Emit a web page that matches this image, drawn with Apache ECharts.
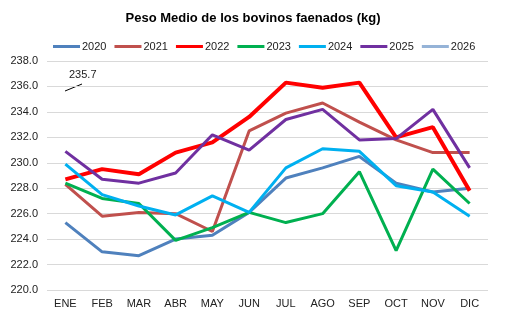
<!DOCTYPE html>
<html><head><meta charset="utf-8">
<script src="https://cdn.jsdelivr.net/npm/echarts@6/dist/echarts.min.js"></script>
<style>html,body{margin:0;padding:0;background:#fff}#c{width:506px;height:323px}</style>
</head><body><div id="c"></div>
<script>
const months = ['ENE','FEB','MAR','ABR','MAY','JUN','JUL','AGO','SEP','OCT','NOV','DIC'];
const y2020 = [225.3,223.0,222.7,224.0,224.3,226.1,228.8,229.6,230.5,228.4,227.7,228.0];
const y2021 = [228.3,225.8,226.1,226.0,224.6,232.5,233.9,234.7,233.2,231.8,230.8,230.8];
const y2022 = [228.7,229.5,229.1,230.8,231.6,233.6,236.3,235.9,236.3,232.0,232.8,227.8];
const y2023 = [228.4,227.2,226.8,223.9,224.9,226.1,225.3,226.0,229.3,223.1,229.5,226.8];
const y2024 = [229.9,227.5,226.6,225.9,227.4,226.1,229.6,231.1,230.9,228.2,227.7,225.8];
const y2025 = [230.9,228.7,228.4,229.2,232.2,231.0,233.4,234.2,231.8,231.9,234.2,229.6];
const y2026 = [];
const yTicks = {min:220, max:238, interval:2};
const note = '235.7';

const chart = echarts.init(document.getElementById('c'));
function s(name, data, color, w){
  return {name, type:'line', data, symbol:'none', lineStyle:{color, width:w}, itemStyle:{color}};
}
chart.setOption({
  animation:false,
  title:{text:'Peso Medio de los bovinos faenados (kg)', left:'center', top:7,
    textStyle:{fontFamily:'Liberation Sans, Arial', fontSize:13, fontWeight:'bold', color:'#000'}},
  legend:{top:36, left:48, icon:'rect', itemWidth:27, itemHeight:3, itemGap:8,
    textStyle:{fontFamily:'Liberation Sans, Arial', fontSize:11, color:'#222', padding:[0,0,0,-3]}},
  grid:{left:47, right:18, top:61, bottom:33},
  xAxis:{type:'category', data:months, boundaryGap:true,
    axisLine:{show:false}, axisTick:{show:false},
    axisLabel:{fontFamily:'Liberation Sans, Arial', fontSize:11, color:'#222', margin:8}},
  yAxis:{type:'value', min:yTicks.min, max:yTicks.max, interval:yTicks.interval,
    axisLine:{show:false}, axisTick:{show:false},
    axisLabel:{fontFamily:'Liberation Sans, Arial', fontSize:11, color:'#222', margin:9,
      formatter:v=>v.toFixed(1)},
    splitLine:{lineStyle:{color:'#d9d9d9', width:1}}},
  series:[
    s('2020', y2020, '#4F81BD', 3),
    s('2021', y2021, '#C0504D', 3),
    s('2022', y2022, '#FF0000', 4),
    s('2023', y2023, '#00B050', 3),
    s('2024', y2024, '#00B0F0', 3),
    s('2025', y2025, '#7030A0', 3),
    s('2026', y2026, '#95B3D7', 3)
  ],
  graphic:[
    {type:'text', left:69, top:69, style:{text:note, fontFamily:'Liberation Sans, Arial', fontSize:11, fill:'#222'}},
    {type:'line', shape:{x1:65, y1:91, x2:82, y2:84}, style:{stroke:'#000', lineWidth:1}}
  ]
});
</script></body></html>
